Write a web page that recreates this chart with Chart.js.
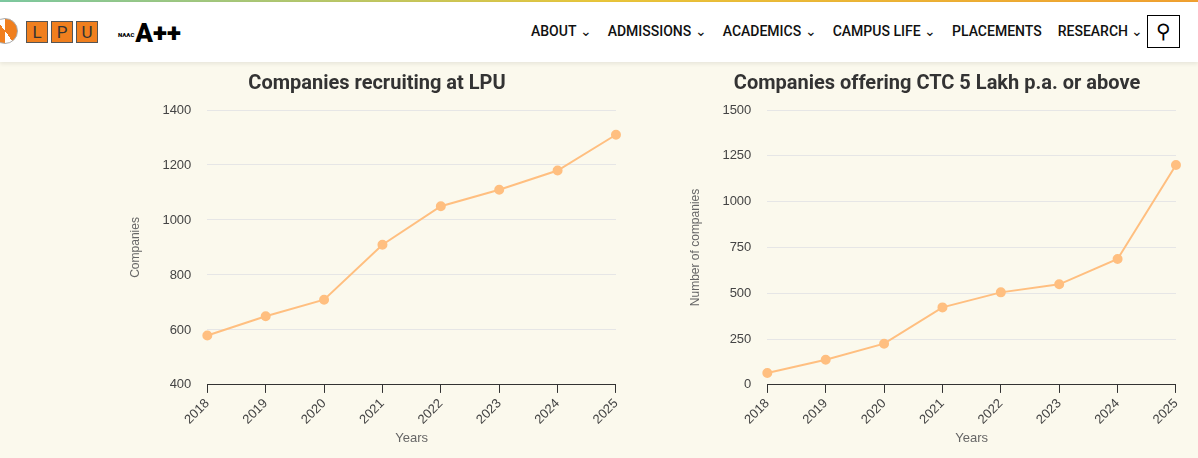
<!DOCTYPE html>
<html><head><meta charset="utf-8">
<script src="https://cdn.jsdelivr.net/npm/chart.js@4"></script>
<style>
body{margin:0;width:1198px;height:458px;overflow:hidden;background:#fbf9ed;font-family:Roboto,Arial,sans-serif}
.top{height:2px;background:linear-gradient(90deg,#7cc8a0,#e8c53a,#f0a030)}
.hdr{position:absolute;top:2px;left:0;width:1198px;height:60px;background:#fff;box-shadow:0 2px 4px rgba(0,0,0,.08)}
.lpu{position:absolute;left:26px;top:19px;display:flex;gap:3px}
.lpu span{width:20px;height:20px;background:#f07f1e;border:1px solid #555;font-size:17px;line-height:20px;text-align:center;color:#333}
.logo{position:absolute;left:-8px;top:16px;width:24px;height:24px;border-radius:50%;background:conic-gradient(#f07f1e 0 40%,#fff 40% 50%,#f07f1e 50% 90%,#fff 90%);border:1px solid #aaa}
.naac{position:absolute;left:118px;top:18px;font-weight:900;font-size:26px;color:#000;line-height:26px}
.naac small{font-size:6px;vertical-align:middle;margin-right:1px}
.nav{position:absolute;left:531px;top:21px;font-size:14px;font-weight:500;color:#111;display:flex;gap:16px;letter-spacing:0}
.search{position:absolute;left:1147px;top:13px;width:33px;height:33px;border:1.5px solid #000;box-sizing:border-box;font-size:20px;text-align:center;line-height:30px}
.c{position:absolute;top:66px}
</style></head><body>
<div class="top"></div>
<div class="hdr">
<div class="logo"></div>
<div class="lpu"><span>L</span><span>P</span><span>U</span></div>
<div class="naac"><small>NAAC</small>A++</div>
<div class="nav"><span>ABOUT ⌄</span><span>ADMISSIONS ⌄</span><span>ACADEMICS ⌄</span><span>CAMPUS LIFE ⌄</span><span>PLACEMENTS</span><span>RESEARCH ⌄</span></div>
<div class="search">&#9906;</div>
</div>
<div class="c" style="left:128px;width:502px;height:390px"><canvas id="c1"></canvas></div>
<div class="c" style="left:688px;width:502px;height:390px"><canvas id="c2"></canvas></div>
<script>
const years = ["2018","2019","2020","2021","2022","2023","2024","2025"];
const companies = [580,650,710,910,1050,1110,1180,1310];
const ctc5Lakh = [65,137,225,423,505,549,687,1200];
const ticks1 = [400,1400,200];
const ticks2 = [0,1500,250];

function make(id, title, yTitle, data, t){
  new Chart(document.getElementById(id), {
    type:'line',
    data:{labels:years, datasets:[{data, borderColor:'#ffbf80', backgroundColor:'#ffbf80', borderWidth:2, pointRadius:4, tension:0}]},
    options:{responsive:true, maintainAspectRatio:false, animation:false,
      layout:{padding:{left:0,right:4,bottom:6}},
      plugins:{legend:{display:false}, title:{display:true, text:title, color:'#333', font:{size:20,weight:'bold',family:'Roboto, Arial'}, padding:{top:6,bottom:14}}},
      scales:{
        x:{grid:{display:true, drawOnChartArea:false, color:'#333', tickLength:8}, border:{color:'#333'}, ticks:{color:'#444',maxRotation:45,minRotation:45,font:{size:13}},
           title:{display:true,text:'Years',color:'#666',font:{size:13},padding:{top:0}}},
        y:{min:t[0], max:t[1], ticks:{stepSize:t[2], color:'#444', font:{size:13}, padding:16, callback:v=>String(v)}, grid:{color:'#e6e6e6', drawTicks:false}, border:{display:false},
           title:{display:true,text:yTitle,color:'#666',font:{size:12},padding:{top:0,bottom:4}}}
      }}
  });
}
make('c1','Companies recruiting at LPU','Companies',companies,ticks1);
make('c2','Companies offering CTC 5 Lakh p.a. or above','Number of companies',ctc5Lakh,ticks2);
</script>
</body></html>
